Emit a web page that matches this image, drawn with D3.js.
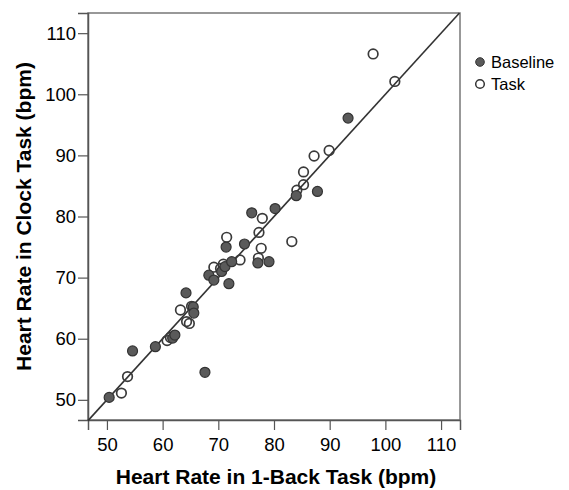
<!DOCTYPE html>
<html><head><meta charset="utf-8">
<script src="https://cdn.jsdelivr.net/npm/d3@7"></script>
<style>body{margin:0;background:#fff}svg{display:block}text{font-family:"Liberation Sans",Arial,sans-serif}</style>
</head><body>
<script>
const baselineX = [50.4,54.6,58.7,61.8,62.2,64.2,65.5,65.6,67.6,68.3,69.2,70.6,71.2,71.4,71.9,72.4,74.7,76.0,77.1,79.1,80.2,84.0,87.8,93.3];
const baselineY = [50.4,58.0,58.7,60.1,60.6,67.5,65.2,64.2,54.5,70.4,69.6,71.0,71.8,75.0,69.0,72.6,75.5,80.6,72.4,72.6,81.3,83.4,84.1,96.1];
const taskX = [52.6,53.7,60.8,61.4,63.2,64.3,64.8,65.2,69.2,70.4,70.9,71.5,73.9,77.3,77.7,77.2,77.9,83.2,84.1,85.3,85.3,87.2,89.9,97.8,101.7];
const taskY = [51.1,53.8,59.7,60.2,64.7,62.8,62.5,65.3,71.7,71.5,72.2,76.6,72.9,77.4,74.8,73.2,79.7,75.9,84.3,85.2,87.3,89.9,90.8,106.6,102.1];
const tickValues = [50,60,70,80,90,100,110];
const seriesNames = ["Baseline","Task"];

const W=569,H=490;
const svg=d3.select("body").append("svg").attr("width",W).attr("height",H);
const L=88,R=460,T=13,B=420;
const x=d3.scaleLinear().domain([46.6,113.4]).range([L,R]);
const y=d3.scaleLinear().domain([46.7,113.3]).range([B,T]);

// frame
svg.append("rect").attr("x",L).attr("y",T).attr("width",R-L).attr("height",B-T)
  .attr("fill","none").attr("stroke","#777").attr("stroke-width",1.5);

const xa=svg.append("g").attr("transform",`translate(0,${B})`)
  .call(d3.axisBottom(x).tickValues(tickValues).tickSize(10).tickPadding(8));
const ya=svg.append("g").attr("transform",`translate(${L},0)`)
  .call(d3.axisLeft(y).tickValues(tickValues).tickSize(10).tickPadding(2));
[xa,ya].forEach(g=>{
  g.attr("font-size",18.5).attr("font-family","Liberation Sans, Arial, sans-serif");
  g.select(".domain").attr("stroke","#555").attr("stroke-width",1.5);
  g.selectAll(".tick line").attr("stroke","#555").attr("stroke-width",1.2);
  g.selectAll("text").attr("fill","#000");
});

// diagonal reference line (y = x)
svg.append("line").attr("x1",x(46.6)).attr("y1",y(46.6)).attr("x2",x(113.3)).attr("y2",y(113.3))
  .attr("stroke","#333").attr("stroke-width",1.6);

const taskData=taskX.map((v,i)=>({x:v,y:taskY[i]}));
const baseData=baselineX.map((v,i)=>({x:v,y:baselineY[i]}));

svg.append("g").selectAll("circle").data(taskData).join("circle")
  .attr("cx",d=>x(d.x)).attr("cy",d=>y(d.y)).attr("r",4.8)
  .attr("fill","none").attr("stroke","#3a3a3a").attr("stroke-width",1.7);
svg.append("g").selectAll("circle").data(baseData).join("circle")
  .attr("cx",d=>x(d.x)).attr("cy",d=>y(d.y)).attr("r",5)
  .attr("fill","#5a5a5a").attr("stroke","#333").attr("stroke-width",1.2);

// axis titles
svg.append("text").attr("x",276).attr("y",484).attr("text-anchor","middle")
  .attr("font-size",21).attr("font-weight","bold").text("Heart Rate in 1-Back Task (bpm)");
svg.append("text").attr("transform",`translate(31,${(T+B)/2}) rotate(-90)`).attr("text-anchor","middle")
  .attr("font-size",21).attr("font-weight","bold").text("Heart Rate in Clock Task (bpm)");

// legend
const lg=svg.append("g");
seriesNames.forEach((n,i)=>{
  const cy=62+i*22;
  lg.append("circle").attr("cx",480).attr("cy",cy).attr("r",4.3)
    .attr("fill",i===0?"#5a5a5a":"#fff").attr("stroke","#333").attr("stroke-width",i===0?1:1.5);
  lg.append("text").attr("x",491).attr("y",cy+6).attr("font-size",16.5).text(n);
});
</script>
</body></html>
